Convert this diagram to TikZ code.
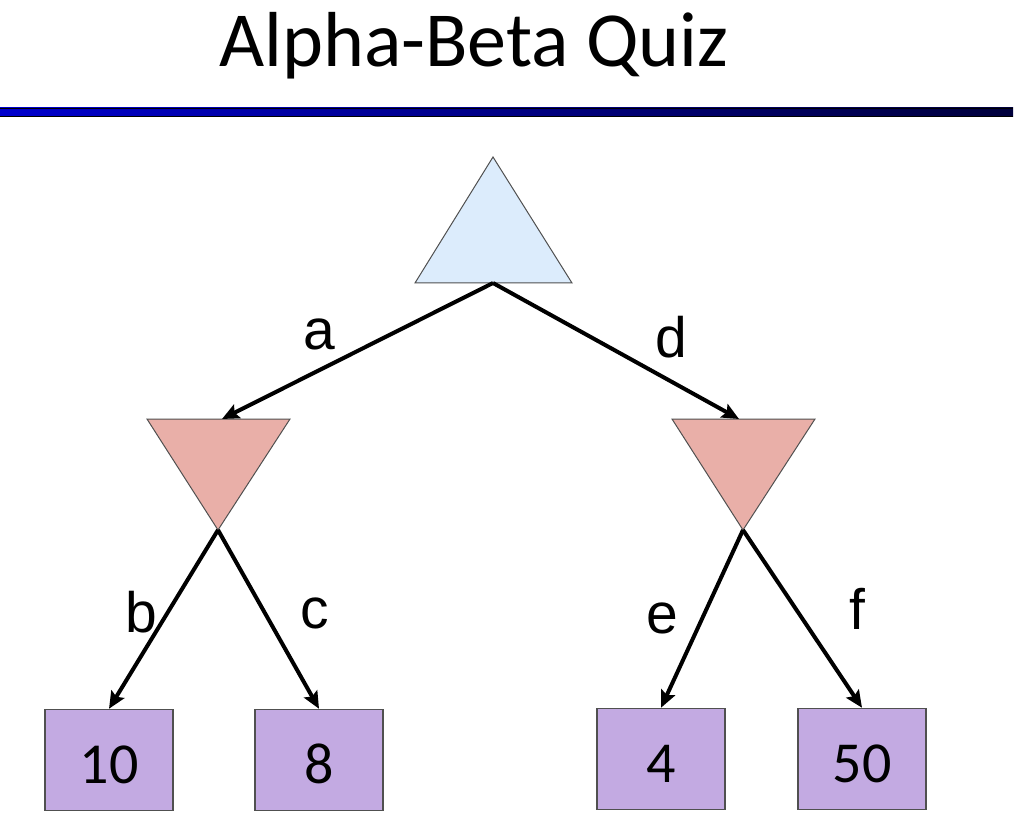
\documentclass[tikz,border=0pt]{standalone}
\usepackage{fontspec}
\setmainfont{Carlito}
\newfontfamily\labelfont{Liberation Sans}
\usetikzlibrary{arrows.meta}
\definecolor{maxfill}{RGB}{220,236,252}
\definecolor{minfill}{RGB}{233,175,168}
\definecolor{leaffill}{RGB}{195,170,226}
\definecolor{edgegray}{RGB}{80,80,80}
\definecolor{barleft}{RGB}{0,0,205}
\definecolor{barright}{RGB}{0,0,60}
\tikzset{
  maxnode/.style={fill=maxfill,draw=edgegray,line width=1pt,line join=miter},
  minnode/.style={fill=minfill,draw=edgegray,line width=1pt,line join=miter},
  leaf/.style={fill=leaffill,draw=edgegray,line width=1.5pt,minimum width=128pt,minimum height=101pt,inner sep=0pt,
    font=\fontsize{58}{58}\selectfont,text height=46pt,text depth=0pt},
  edge/.style={line width=4pt,-{Stealth[length=17pt,width=15pt,inset=3pt]}},
  elabel/.style={font=\labelfont\fontsize{57}{57}\selectfont,inner sep=0pt,anchor=base}
}
\begin{document}
\begin{tikzpicture}[x=1pt,y=-1pt]
\useasboundingbox (0,0) rectangle (1015,818);
% title
\node[anchor=base,inner sep=0pt,font=\fontsize{78}{78}\selectfont] (title) at (474,67) {Alpha-Beta Quiz};
% bar
\shade[left color=barleft,right color=barright] (0,108) rectangle (1013,117);
\draw[line width=1pt] (0,108.5) -- (1013,108.5);
\draw[line width=1pt] (0,116.5) -- (1013,116.5);
% max triangle
\draw[maxnode] (415,283) -- (572,283) -- (493,157) -- cycle;
\coordinate (maxbot) at (493,283);
% min triangles
\draw[minnode] (147,419) -- (290,419) -- (218,530) -- cycle;
\draw[minnode] (672,419) -- (815,419) -- (743,530) -- cycle;
\coordinate (minLtop) at (222,419);
\coordinate (minRtop) at (739,419);
\coordinate (minLbot) at (218,530);
\coordinate (minRbot) at (743,530);
% leaves
\node[leaf] (l10) at (109,760) {10};
\node[leaf] (l8) at (319,760) {8};
\node[leaf] (l4) at (661,759) {4};
\node[leaf] (l50) at (862,759) {50};
% edges
\draw[edge] (maxbot) -- (minLtop);
\draw[edge] (maxbot) -- (minRtop);
\draw[edge] (minLbot) -- (l10.north);
\draw[edge] (minLbot) -- (l8.north);
\draw[edge] (minRbot) -- (l4.north);
\draw[edge] (minRbot) -- (l50.north);
% labels
\node[elabel] (la) at (319,350) {a};
\node[elabel] (ld) at (671,357) {d};
\node[elabel] (lb) at (141,632) {b};
\node[elabel] (lc) at (315,628) {c};
\node[elabel] (le) at (662,633) {e};
\node[elabel] (lf) at (857,629) {f};
\end{tikzpicture}
\end{document}
